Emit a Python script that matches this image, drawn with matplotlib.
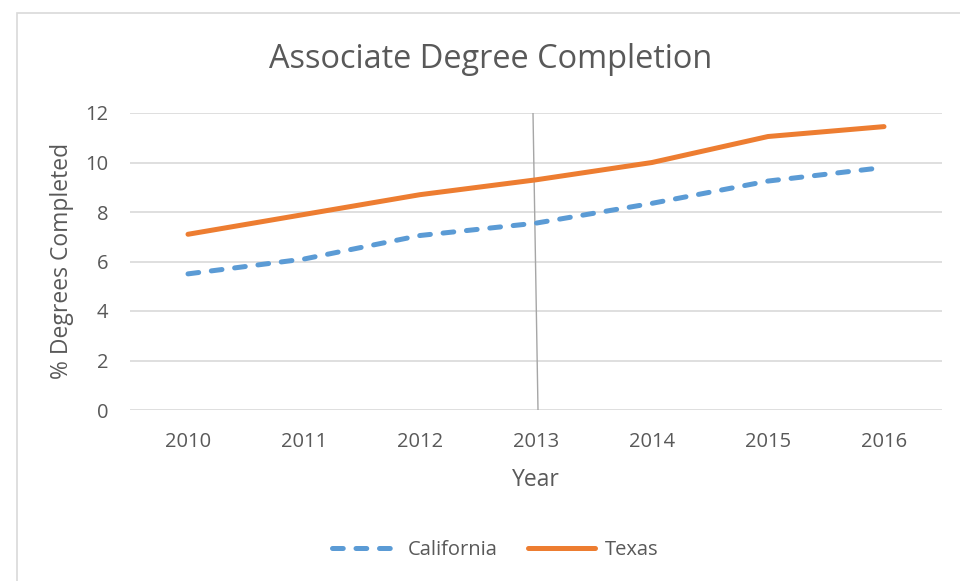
import matplotlib
matplotlib.use("Agg")
import matplotlib.pyplot as plt
from matplotlib.lines import Line2D
from matplotlib.patches import Rectangle

years = ["2010", "2011", "2012", "2013", "2014", "2015", "2016"]
california = [5.5, 6.1, 7.05, 7.55, 8.35, 9.25, 9.8]
texas = [7.1, 7.9, 8.7, 9.3, 10.0, 11.05, 11.45]
yticks = [0, 2, 4, 6, 8, 10, 12]

plt.rcParams['font.family'] = ['Open Sans', 'DejaVu Sans']
txt = '#595959'

fig = plt.figure(figsize=(9.6, 5.81), dpi=100)
W, H = 960, 581
fig.patches.append(Rectangle((17 / W, -0.2), 1.2, 1.2 - 13 / H, transform=fig.transFigure,
                             fill=False, edgecolor='#d9d9d9', linewidth=1.2))
ax = fig.add_axes([130 / W, 1 - 410 / H, (942 - 130) / W, (410 - 113) / H])
x = list(range(len(years)))
ax.plot(x, california, color='#5b9bd5', linewidth=3.6, linestyle=(0, (2.15, 2.55)),
        dash_capstyle='round', solid_capstyle='round', label='California', zorder=3)
ax.plot(x, texas, color='#ed7d31', linewidth=3.6, solid_capstyle='round', label='Texas', zorder=3)
ax.set_xlim(-0.5, len(years) - 0.5)
ax.set_ylim(0, 12)
ax.set_yticks(yticks)
ax.set_xticks(x)
ax.set_xticklabels(years)
ax.grid(axis='y', color='#d9d9d9', linewidth=1.2)
ax.set_axisbelow(True)
for s in ax.spines.values():
    s.set_visible(False)
ax.tick_params(length=0, labelsize=14.5, colors=txt)
ax.tick_params(axis='x', pad=16)
ax.tick_params(axis='y', pad=15.5)

fig.text(536 / W, 1 - 480 / H, 'Year', ha='center', va='center', fontsize=16.5, color=txt)
fig.text(62 / W, 1 - 261 / H, '% Degrees Completed', ha='center', va='center',
         rotation=90, fontsize=16.5, color=txt)

# thin gray vertical marker line
ax.add_line(Line2D([(533 - 130) / 812, (538 - 130) / 812], [1, 0], transform=ax.transAxes,
                   color='#a6a6a6', linewidth=1, zorder=2))

fig.text(491 / W, 1 - 60 / H, 'Associate Degree Completion', ha='center', va='center',
         fontsize=23.4, color=txt)
leg = fig.legend(loc='center', bbox_to_anchor=(495 / W, 1 - 550 / H), ncol=2, frameon=False,
                 fontsize=14.5, handlelength=3.3, columnspacing=1.5, handletextpad=0.5)
for t in leg.get_texts():
    t.set_color(txt)
fig.savefig('out.png', dpi=100)
